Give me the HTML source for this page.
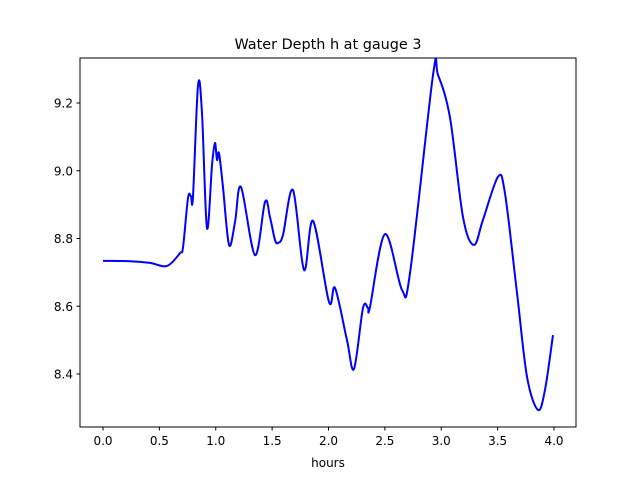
<!DOCTYPE html>
<html><head><meta charset="utf-8"><style>
body{margin:0;background:#fff;}
svg{display:block;font-family:"DejaVu Sans","Liberation Sans",sans-serif;}
</style></head><body>
<svg id="chart" width="640" height="480">
<rect width="640" height="480" fill="#fff"/>
<text x="328" y="49" font-size="14.4" text-anchor="middle">Water Depth h at gauge 3</text>
<g id="ticks"></g>
<path id="line" fill="none" stroke="#0000ff" stroke-width="2" stroke-linejoin="round"/>
<rect x="80" y="58" width="496" height="369" fill="none" stroke="#000" stroke-width="1"/>
<text x="328" y="467" font-size="12" text-anchor="middle">hours</text>
</svg>
<script>
const hours = [0,0.24,0.417,0.568,0.683,0.71,0.754,0.78,0.798,0.843,0.878,0.922,0.967,0.993,1.011,1.029,1.064,1.118,1.171,1.224,1.348,1.437,1.481,1.525,1.552,1.596,1.685,1.783,1.863,2.004,2.058,2.164,2.226,2.306,2.35,2.368,2.501,2.652,2.723,2.927,2.971,3.078,3.193,3.29,3.37,3.503,3.565,3.672,3.761,3.858,3.92,3.991];
const depth = [8.734,8.733,8.728,8.719,8.757,8.775,8.92,8.925,8.923,9.253,9.17,8.831,9.017,9.082,9.032,9.052,8.952,8.781,8.849,8.952,8.751,8.908,8.863,8.796,8.787,8.81,8.943,8.707,8.852,8.613,8.654,8.5,8.415,8.595,8.595,8.598,8.813,8.648,8.698,9.283,9.283,9.156,8.863,8.781,8.855,8.982,8.934,8.639,8.391,8.294,8.353,8.515];
const xTicks = [0.0,0.5,1.0,1.5,2.0,2.5,3.0,3.5,4.0];
const yTicks = [8.4,8.6,8.8,9.0,9.2];

const X = v => 103 + v*112.75;
const Y = v => 103 + (9.2 - v)*338.75;
const NS = "http://www.w3.org/2000/svg";
const g = document.getElementById('ticks');
xTicks.forEach(t=>{
  const l=document.createElementNS(NS,'line');
  
  
  l.setAttribute('x1',X(t));l.setAttribute('x2',X(t));l.setAttribute('y1',427);l.setAttribute('y2',430.5);l.setAttribute('stroke','#000');
  g.appendChild(l);
  const s=document.createElementNS(NS,'text');
  
  
  s.setAttribute('x',X(t));s.setAttribute('y',445);s.setAttribute('font-size','12');s.setAttribute('text-anchor','middle');
  s.textContent=t.toFixed(1);g.appendChild(s);
});
yTicks.forEach(t=>{
  const l=document.createElementNS(NS,'line');
  
  
  l.setAttribute('x1',76.5);l.setAttribute('x2',80);l.setAttribute('y1',Y(t));l.setAttribute('y2',Y(t));l.setAttribute('stroke','#000');
  g.appendChild(l);
  const s=document.createElementNS(NS,'text');
  
  
  s.setAttribute('x',73);s.setAttribute('y',Y(t)+4.5);s.setAttribute('font-size','12');s.setAttribute('text-anchor','end');
  s.textContent=t.toFixed(1);g.appendChild(s);
});
const P = hours.map((h,i)=>[X(h),Y(depth[i])]);
let d = `M${P[0][0]},${P[0][1]}`;
for(let i=0;i<P.length-1;i++){
  const p0=P[Math.max(0,i-1)],p1=P[i],p2=P[i+1],p3=P[Math.min(P.length-1,i+2)];
  const c1=[p1[0]+(p2[0]-p0[0])/6,p1[1]+(p2[1]-p0[1])/6];
  const c2=[p2[0]-(p3[0]-p1[0])/6,p2[1]-(p3[1]-p1[1])/6];
  d+=` C${c1[0]},${c1[1]} ${c2[0]},${c2[1]} ${p2[0]},${p2[1]}`;
}
document.getElementById('line').setAttribute('d',d);
</script>
</body></html>
